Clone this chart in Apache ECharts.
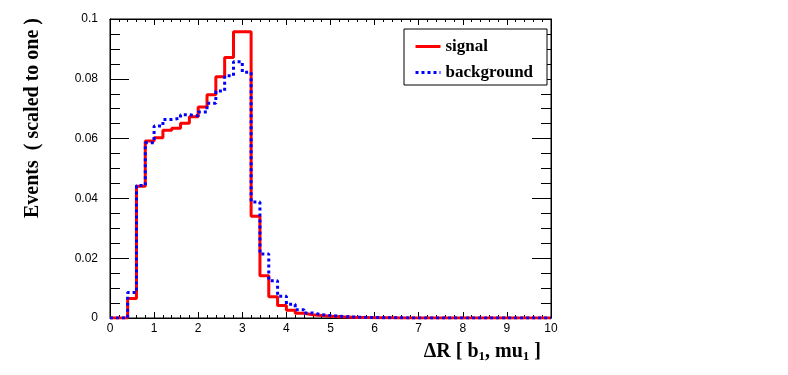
<!DOCTYPE html>
<html>
<head>
<meta charset="utf-8">
<script src="https://cdn.jsdelivr.net/npm/echarts@6/dist/echarts.min.js"></script>
<style>
  html, body { margin: 0; padding: 0; background: #fff; }
  #chart { width: 788px; height: 375px; }
</style>
</head>
<body>
<div id="chart"></div>
<script>
// low edges of the 0.2 wide bins, plus the upper edge of the last bin
const binEdges = [
  0, 0.2, 0.4, 0.6, 0.8, 1, 1.2, 1.4, 1.6, 1.8,
  2, 2.2, 2.4, 2.6, 2.8, 3, 3.2, 3.4, 3.6, 3.8,
  4, 4.2, 4.4, 4.6, 4.8, 5, 5.2, 5.4, 5.6, 5.8,
  6, 6.2, 6.4, 6.6, 6.8, 7, 7.2, 7.4, 7.6, 7.8,
  8, 8.2, 8.4, 8.6, 8.8, 9, 9.2, 9.4, 9.6, 9.8, 10,
];

const signalValues = [
  0, 0, 0.0065, 0.0441, 0.0592, 0.0603, 0.0628, 0.0635, 0.0651, 0.0673,
  0.0706, 0.0747, 0.0807, 0.0871, 0.0957, 0.0957, 0.0340, 0.0141, 0.0071, 0.0042,
  0.0026, 0.0016, 0.0011, 0.0008, 0.0006, 0.0004, 0.0003, 0.0002, 0.0002, 0.0001,
  0.0001, 0.0001, 0, 0, 0, 0, 0, 0, 0, 0,
  0, 0, 0, 0, 0, 0, 0, 0, 0, 0,
];

const backgroundValues = [
  0, 0, 0.0085, 0.0443, 0.0586, 0.0642, 0.0664, 0.0668, 0.0680, 0.0676,
  0.0689, 0.0718, 0.0759, 0.0810, 0.0857, 0.0822, 0.0388, 0.0214, 0.0125, 0.0073,
  0.0046, 0.0028, 0.0017, 0.0011, 0.0008, 0.0006, 0.0004, 0.0003, 0.0002, 0.0002,
  0.0001, 0.0001, 0.0001, 0, 0, 0, 0, 0, 0, 0,
  0, 0, 0, 0, 0, 0, 0, 0, 0, 0,
];

const seriesNames = ['signal', 'background'];

// step histogram: each bin value held from its low edge to the next edge
const toSteps = (values) => binEdges.map((edge, i) => [edge, values[Math.min(i, values.length - 1)]]);

const chart = echarts.init(document.getElementById('chart'), null, { renderer: 'canvas' });

const labelFont = { fontFamily: 'Liberation Sans', fontSize: 12, color: '#000' };
const titleFont = 'bold 20px "Liberation Serif"';

const xBase = {
  type: 'value',
  min: 0,
  max: 10,
  interval: 1,
  splitLine: { show: false },
  axisLine: { onZero: false, lineStyle: { color: '#000', width: 1 } },
  axisTick: { inside: true, length: 6, lineStyle: { color: '#000' } },
  minorTick: { show: true, splitNumber: 5, length: 3, lineStyle: { color: '#000' } },
};

const yBase = {
  type: 'value',
  min: 0,
  max: 0.1,
  interval: 0.02,
  splitLine: { show: false },
  axisLine: { show: true, onZero: false, lineStyle: { color: '#000', width: 1 } },
  axisTick: { inside: true, length: 19, lineStyle: { color: '#000' } },
  minorTick: { show: true, splitNumber: 4, length: 10, lineStyle: { color: '#000' } },
};

const option = {
  animation: false,
  backgroundColor: '#fff',
  grid: {
    left: 110,
    right: 237,
    top: 19,
    bottom: 57,
    show: true,
    borderColor: '#000',
    borderWidth: 1,
    backgroundColor: 'transparent',
  },
  xAxis: [
    { ...xBase, position: 'bottom', axisLabel: { ...labelFont, margin: 5 } },
    { ...xBase, position: 'top', axisLabel: { show: false } },
  ],
  yAxis: [
    { ...yBase, position: 'left', axisLabel: { ...labelFont, margin: 12 } },
    { ...yBase, position: 'right', axisLabel: { show: false } },
  ],
  legend: {
    orient: 'vertical',
    left: 409,
    top: 33,
    itemWidth: 25,
    itemHeight: 14,
    itemGap: 9,
    z: 60,
    lineStyle: { width: 3 },
    itemStyle: { opacity: 0 },
    textStyle: { fontFamily: 'Liberation Serif', fontWeight: 'bold', fontSize: 17, color: '#000' },
    data: seriesNames,
  },
  graphic: [
    {
      type: 'rect',
      z: 50,
      shape: { x: 404, y: 29, width: 143, height: 56 },
      style: { fill: '#fff', stroke: '#000', lineWidth: 1 },
    },
    {
      type: 'text',
      x: 33,
      y: 118,
      rotation: Math.PI / 2,
      style: {
        text: 'Events  ( scaled to one )',
        font: titleFont,
        fill: '#000',
        align: 'center',
        verticalAlign: 'middle',
      },
    },
    {
      type: 'text',
      x: 541,
      y: 352,
      style: {
        text: 'ΔR [ b{sub|1}, mu{sub|1} ]',
        font: titleFont,
        fill: '#000',
        align: 'right',
        verticalAlign: 'middle',
        rich: {
          sub: { font: 'bold 13px "Liberation Serif"', fill: '#000', padding: [10, 0, 0, 0] },
        },
      },
    },
  ],
  series: [
    {
      name: seriesNames[0],
      type: 'line',
      step: 'end',
      symbol: 'none',
      data: toSteps(signalValues),
      lineStyle: { color: '#ff0000', width: 3 },
      itemStyle: { color: '#ff0000' },
      z: 2,
    },
    {
      name: seriesNames[1],
      type: 'line',
      step: 'end',
      symbol: 'none',
      data: toSteps(backgroundValues),
      lineStyle: { color: '#0000ff', width: 3, type: [3, 3] },
      itemStyle: { color: '#0000ff' },
      z: 3,
    },
  ],
};

chart.setOption(option);
</script>
</body>
</html>
